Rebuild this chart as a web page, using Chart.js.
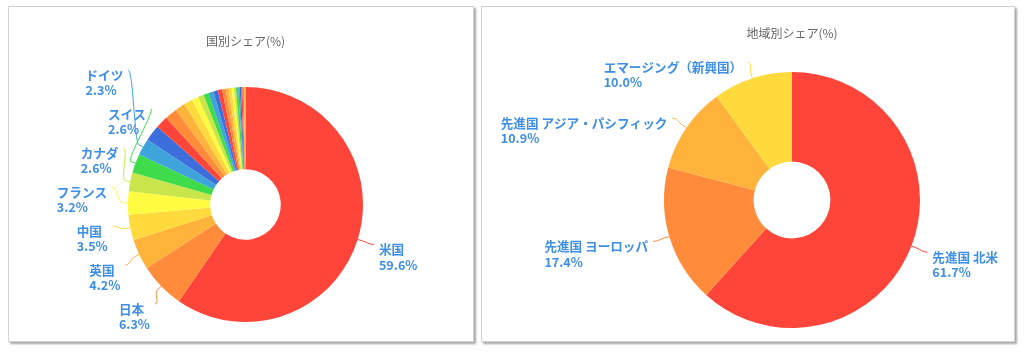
<!DOCTYPE html>
<html><head><meta charset="utf-8">
<script src="https://cdn.jsdelivr.net/npm/chart.js@4.4.1/dist/chart.umd.min.js"></script>
<style>
html,body{margin:0;padding:0;background:#fff;width:1024px;height:354px;overflow:hidden;}
.panel{position:absolute;top:6px;height:336px;box-sizing:border-box;border:1px solid #d2d2d2;box-shadow:2px 2px 2px rgba(0,0,0,0.35);background:#fff;}
#p1{left:8px;width:466px;}
#p2{left:481px;width:534px;}
canvas{display:block;}
</style></head><body>
<div class="panel" id="p1"><canvas id="c1" width="464" height="334"></canvas></div>
<div class="panel" id="p2"><canvas id="c2" width="532" height="334"></canvas></div>
<script>
// ---- data ----
const countryTitle = '国別シェア(%)';
const countryLabels = ['米国','日本','英国','中国','フランス','カナダ','スイス','ドイツ',
  'オーストラリア','台湾','インド','韓国','オランダ','スウェーデン','デンマーク','イタリア','スペイン',
  '香港','ブラジル','サウジアラビア','シンガポール','南アフリカ','フィンランド','メキシコ','ベルギー',
  'イスラエル','タイ','インドネシア','ノルウェー','その他'];
const countryValues = [59.6,6.3,4.2,3.5,3.2,2.6,2.6,2.3,
  2.2,1.7,1.7,1.4,1.2,0.9,0.8,0.7,0.7,
  0.6,0.6,0.5,0.4,0.4,0.3,0.3,0.3,
  0.2,0.2,0.2,0.2,0.2];

const regionTitle = '地域別シェア(%)';
const regionLabels = ['先進国 北米','先進国 ヨーロッパ','先進国 アジア・パシフィック','エマージング（新興国）'];
const regionValues = [61.7,17.4,10.9,10.0];

const palette = ['#FF4539','#FF8B3B','#FFB33B','#FFDA3C','#FFFB40','#C8E64B','#3EDC4A','#40A4DC','#3C6FDB'];

// ---- label plugin (Highcharts-like pie data labels) ----
const FONT = '"Noto Sans CJK JP","Noto Sans",sans-serif';
const pieLabels = {
  id: 'pieLabels',
  afterDatasetsDraw(chart, args, opts) {
    const ctx = chart.ctx;
    const meta = chart.getDatasetMeta(0);
    const ds = chart.data.datasets[0];
    const names = chart.data.labels;
    const arcs = meta.data;
    if (!arcs.length) return;
    const total = ds.data.reduce((a, b) => a + b, 0);
    const cx = arcs[0].x, cy = arcs[0].y, r = arcs[0].outerRadius;
    const R = r + opts.distance;
    const H = opts.labelHeight;

    // title
    ctx.save();
    ctx.font = '12px ' + FONT;
    ctx.fillStyle = '#666666';
    ctx.textAlign = 'center';
    ctx.textBaseline = 'middle';
    ctx.fillText(opts.title, cx, opts.titleY);
    ctx.restore();

    const items = [];
    arcs.forEach((arc, i) => {
      const v = ds.data[i];
      if (v < opts.minValue) return;
      const mid = (arc.startAngle + arc.endAngle) / 2;
      items.push({
        i, mid,
        left: Math.cos(mid) < 0,
        natural: cy + Math.sin(mid) * R,
        color: ds.backgroundColor[i % ds.backgroundColor.length],
        name: names[i],
        pct: (v / total * 100).toFixed(1) + '%'
      });
    });

    const top = cy - R;
    const bottom = Math.min(cy + R, chart.height - opts.bottomMargin - (H - 10));

    function distribute(list) {
      list.sort((a, b) => a.natural - b.natural);
      let clusters = list.map(it => ({ items: [it], pos: it.natural }));
      let changed = true;
      while (changed) {
        changed = false;
        for (const c of clusters) {
          const span = (c.items.length - 1) * H;
          const mean = c.items.reduce((s, it) => s + it.natural, 0) / c.items.length;
          c.pos = Math.max(top, Math.min(bottom - span, mean - span / 2));
        }
        for (let k = 0; k < clusters.length - 1; k++) {
          const a = clusters[k], b = clusters[k + 1];
          if (a.pos + a.items.length * H > b.pos + 0.01) {
            a.items = a.items.concat(b.items);
            clusters.splice(k + 1, 1);
            changed = true;
            break;
          }
        }
      }
      clusters.forEach(c => c.items.forEach((it, k) => { it.y = c.pos + k * H; }));
    }
    distribute(items.filter(it => it.left));
    distribute(items.filter(it => !it.left));

    ctx.save();
    ctx.font = 'bold 12.6px ' + FONT;
    ctx.textBaseline = 'middle';
    ctx.textAlign = 'left';
    items.forEach(it => {
      const yForX = (it.y <= cy - R + 1 || it.y >= cy + R - 1) ? it.natural : it.y;
      const dy = yForX - cy;
      const dx = Math.sqrt(Math.max(0, R * R - dy * dy));
      const x = it.left ? cx - dx : cx + dx;
      const y = it.y;
      // connector
      const tx = cx + Math.cos(it.mid) * r, ty = cy + Math.sin(it.mid) * r;
      const bx = cx + Math.cos(it.mid) * (r + opts.connectorOffset), by = cy + Math.sin(it.mid) * (r + opts.connectorOffset);
      ctx.strokeStyle = it.color;
      ctx.lineWidth = 1;
      ctx.beginPath();
      ctx.moveTo(x, y);
      ctx.bezierCurveTo(x + (it.left ? 5 : -5), y, 2 * bx - tx, 2 * by - ty, bx, by);
      ctx.lineTo(tx, ty);
      ctx.stroke();
      // text
      const w = Math.max(ctx.measureText(it.name).width, ctx.measureText(it.pct).width);
      const lx = it.left ? x - opts.padding - w : x + opts.padding;
      ctx.fillStyle = '#3d8ee6';
      ctx.fillText(it.name, lx, y + opts.line1);
      ctx.fillText(it.pct, lx, y + opts.line2);
    });
    ctx.restore();
  }
};

function makePie(id, labels, values, pad, labelOpts) {
  return new Chart(document.getElementById(id), {
    type: 'doughnut',
    data: {
      labels: labels,
      datasets: [{
        data: values,
        backgroundColor: labels.map((_, i) => palette[i % palette.length]),
        borderWidth: 0,
        hoverOffset: 0
      }]
    },
    options: {
      responsive: false,
      animation: false,
      devicePixelRatio: 1,
      cutout: '30%',
      layout: { padding: pad },
      plugins: {
        legend: { display: false },
        tooltip: { enabled: false },
        title: { display: false },
        pieLabels: Object.assign({
          distance: 17, labelHeight: 39, bottomMargin: 8, connectorOffset: 5,
          padding: 5, line1: 5, line2: 20.5
        }, labelOpts)
      }
    },
    plugins: [pieLabels]
  });
}

makePie('c1', countryLabels, countryValues,
  { left: 119, right: 110, top: 80, bottom: 19 },
  { title: countryTitle, titleY: 34, minValue: 2.3 });
makePie('c2', regionLabels, regionValues,
  { left: 182, right: 94, top: 65, bottom: 13 },
  { title: regionTitle, titleY: 26, minValue: 0 });
</script>
</body></html>
